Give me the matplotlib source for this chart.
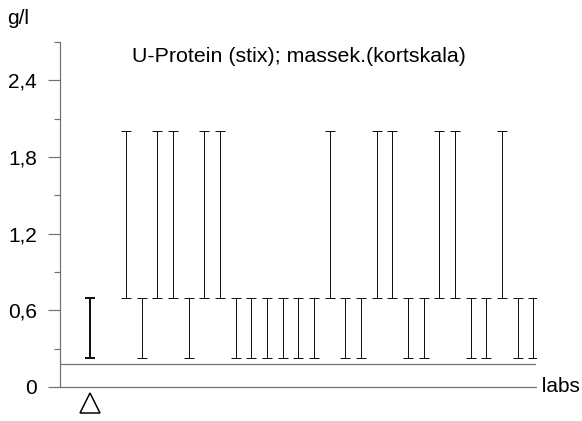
import matplotlib
matplotlib.use('Agg')
import matplotlib.pyplot as plt
from matplotlib.ticker import MultipleLocator, FuncFormatter

plt.rcParams['font.family'] = ['Liberation Sans', 'DejaVu Sans']

# sampling points (first one is the reference sample)
days = [0, 2.3, 3.3, 4.3, 5.3, 6.3, 7.3, 8.3, 9.3, 10.3, 11.3, 12.3, 13.3, 14.3,
        15.3, 16.3, 17.3, 18.3, 19.3, 20.3, 21.3, 22.3, 23.3, 24.3, 25.3, 26.3,
        27.3, 28.3]
# stix reading as a range low..high in g/l
lo = [0.23, 0.7, 0.23, 0.7, 0.7, 0.23, 0.7, 0.7, 0.23, 0.23, 0.23, 0.23, 0.23,
      0.23, 0.7, 0.23, 0.23, 0.7, 0.7, 0.23, 0.23, 0.7, 0.7, 0.23, 0.23, 0.7,
      0.23, 0.23]
hi = [0.7, 2.0, 0.7, 2.0, 2.0, 0.7, 2.0, 2.0, 0.7, 0.7, 0.7, 0.7, 0.7,
      0.7, 2.0, 0.7, 0.7, 2.0, 2.0, 0.7, 0.7, 2.0, 2.0, 0.7, 0.7, 2.0,
      0.7, 0.7]
ref_level = 0.18
yticks = [0, 0.6, 1.2, 1.8, 2.4]

px = 0.72  # one pixel in points at 100 dpi
axis_col = '#707070'
fs = 15

fig = plt.figure(figsize=(5.82, 4.21), dpi=100)
ax = fig.add_axes([60 / 582, 1 - 387 / 421, 476 / 582, 345 / 421])

ax.set_xlim(-1.91, 28.46)
ax.set_ylim(0, 2.7)

ax.axhline(ref_level, color=axis_col, lw=1.2 * px)

for i, (x, a, b) in enumerate(zip(days, lo, hi)):
    lw = 2 * px if i == 0 else 1 * px
    mid = (a + b) / 2
    ax.errorbar(x, mid, yerr=[[mid - a], [b - mid]], fmt='none',
                ecolor='#111111', elinewidth=lw, capsize=5 * px,
                capthick=lw)

# reference marker under the first sample
ax.plot(days[0], -0.125, marker='^', ms=20 * px, mfc='white', mec='black',
        mew=1.5 * px, clip_on=False)

for s in ['top', 'right']:
    ax.spines[s].set_visible(False)
for s in ['left', 'bottom']:
    ax.spines[s].set_color(axis_col)
    ax.spines[s].set_linewidth(1.2 * px)

ax.set_xticks([])
ax.set_yticks(yticks)
ax.yaxis.set_minor_locator(MultipleLocator(0.3))
ax.yaxis.set_major_formatter(FuncFormatter(lambda v, p: ('%g' % v).replace('.', ',')))
ax.tick_params(axis='y', which='major', length=12 * px, width=1.2 * px,
               color=axis_col, labelsize=fs, pad=8)
ax.tick_params(axis='y', which='minor', length=6 * px, width=1.2 * px,
               color=axis_col)

ax.text(1.0, 0, ' labs', transform=ax.get_yaxis_transform(), ha='left',
        va='center', fontsize=fs)
fig.text(7 / 582, 1 - 18 / 421, 'g/l', ha='left', va='center', fontsize=fs)
fig.text(299 / 582, 1 - 56 / 421, 'U-Protein (stix); massek.(kortskala)',
         ha='center', va='center', fontsize=15.4)

fig.savefig('out.png', dpi=100)
